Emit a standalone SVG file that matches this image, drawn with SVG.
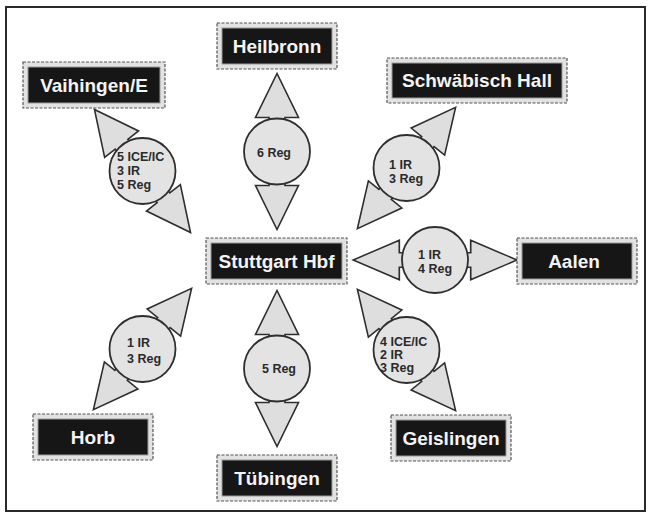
<svg xmlns="http://www.w3.org/2000/svg" xmlns:xlink="http://www.w3.org/1999/xlink" width="648" height="518" viewBox="0 0 648 518">
<style>
.frame{fill:#ffffff;stroke:#2a2a2a;stroke-width:2}
.outer{fill:#e2e2e2;stroke:#555;stroke-width:1.2;stroke-dasharray:3 1.5}
.inner{fill:#161616;stroke:#9a9a9a;stroke-width:1}
.lbl{font-family:"Liberation Sans",Arial,sans-serif;font-weight:bold;font-size:19px;fill:#f4f4f4;text-anchor:middle}
.head{fill:#dedede;stroke:#2e2e2e;stroke-width:1.6;stroke-linejoin:miter}
.disc{fill:#e3e3e3;stroke:#2e2e2e;stroke-width:1.8}
.cnt{font-family:"Liberation Sans",Arial,sans-serif;font-weight:bold;font-size:12.5px;fill:#2a2a2a}
.mid{text-anchor:middle}
</style>
<defs>
<path id="arr" d="M25,-8 H34 V-21.5 L78,0 L34,21.5 V8 H25 Z M-25,-8 H-34 V-21.5 L-78,0 L-34,21.5 V8 H-25 Z"/>
</defs>
<rect class="frame" x="6" y="7" width="639" height="504"/>

<g id="connectors">
  <g id="link-heilbronn">
    <use xlink:href="#arr" href="#arr" class="head" transform="translate(277,151.5) rotate(90)"/>
    <circle class="disc" cx="277" cy="151.5" r="33"/>
    <text class="cnt mid" x="274" y="157">6 Reg</text>
  </g>
  <g id="link-tuebingen">
    <use xlink:href="#arr" href="#arr" class="head" transform="translate(277,368.5) rotate(90)"/>
    <circle class="disc" cx="277" cy="368.5" r="33"/>
    <text class="cnt mid" x="279" y="373">5 Reg</text>
  </g>
  <g id="link-aalen">
    <use xlink:href="#arr" href="#arr" class="head" transform="translate(435,260) scale(1.05,0.92)"/>
    <circle class="disc" cx="435" cy="260" r="33"/>
    <text class="cnt" x="418" y="259">1 IR</text>
    <text class="cnt" x="418" y="273">4 Reg</text>
  </g>
  <g id="link-vaihingen">
    <use xlink:href="#arr" href="#arr" class="head" transform="translate(142.5,171) rotate(52)"/>
    <circle class="disc" cx="142.5" cy="171" r="33"/>
    <text class="cnt" x="117" y="161">5 ICE/IC</text>
    <text class="cnt" x="117" y="175">3 IR</text>
    <text class="cnt" x="117" y="189">5 Reg</text>
  </g>
  <g id="link-schwaebisch">
    <use xlink:href="#arr" href="#arr" class="head" transform="translate(406.5,168) rotate(-51)"/>
    <circle class="disc" cx="406.5" cy="168" r="33"/>
    <text class="cnt" x="389" y="169">1 IR</text>
    <text class="cnt" x="389" y="183">3 Reg</text>
  </g>
  <g id="link-horb">
    <use xlink:href="#arr" href="#arr" class="head" transform="translate(142.5,349) rotate(-51)"/>
    <circle class="disc" cx="142.5" cy="349" r="33"/>
    <text class="cnt" x="127" y="347">1 IR</text>
    <text class="cnt" x="127" y="363">3 Reg</text>
  </g>
  <g id="link-geislingen">
    <use xlink:href="#arr" href="#arr" class="head" transform="translate(406.5,350) rotate(51)"/>
    <circle class="disc" cx="406.5" cy="350" r="33"/>
    <text class="cnt" x="380" y="346">4 ICE/IC</text>
    <text class="cnt" x="380" y="359">2 IR</text>
    <text class="cnt" x="380" y="372">3 Reg</text>
  </g>
</g>

<g id="node-heilbronn">
  <rect class="outer" x="217" y="23" width="120" height="46"/>
  <rect class="inner" x="222" y="28" width="110" height="36"/>
  <text class="lbl" x="277" y="53">Heilbronn</text>
</g>
<g id="node-vaihingen">
  <rect class="outer" x="23" y="62" width="142" height="46"/>
  <rect class="inner" x="28" y="67" width="132" height="36"/>
  <text class="lbl" x="94" y="92">Vaihingen/E</text>
</g>
<g id="node-schwaebisch-hall">
  <rect class="outer" x="387" y="58" width="180" height="45"/>
  <rect class="inner" x="392" y="63" width="170" height="35"/>
  <text class="lbl" x="477" y="87">Schwäbisch Hall</text>
</g>
<g id="node-stuttgart">
  <rect class="outer" x="206" y="238" width="141" height="46"/>
  <rect class="inner" x="211" y="243" width="131" height="36"/>
  <text class="lbl" x="276.5" y="268">Stuttgart Hbf</text>
</g>
<g id="node-aalen">
  <rect class="outer" x="517" y="238" width="120" height="46"/>
  <rect class="inner" x="522" y="243" width="110" height="36"/>
  <text class="lbl" x="574" y="268">Aalen</text>
</g>
<g id="node-horb">
  <rect class="outer" x="33" y="414" width="120" height="46"/>
  <rect class="inner" x="38" y="419" width="110" height="36"/>
  <text class="lbl" x="93" y="444">Horb</text>
</g>
<g id="node-tuebingen">
  <rect class="outer" x="217" y="455" width="120" height="46"/>
  <rect class="inner" x="222" y="460" width="110" height="36"/>
  <text class="lbl" x="277" y="485">Tübingen</text>
</g>
<g id="node-geislingen">
  <rect class="outer" x="391" y="415" width="120" height="46"/>
  <rect class="inner" x="396" y="420" width="110" height="36"/>
  <text class="lbl" x="451" y="445">Geislingen</text>
</g>
</svg>
